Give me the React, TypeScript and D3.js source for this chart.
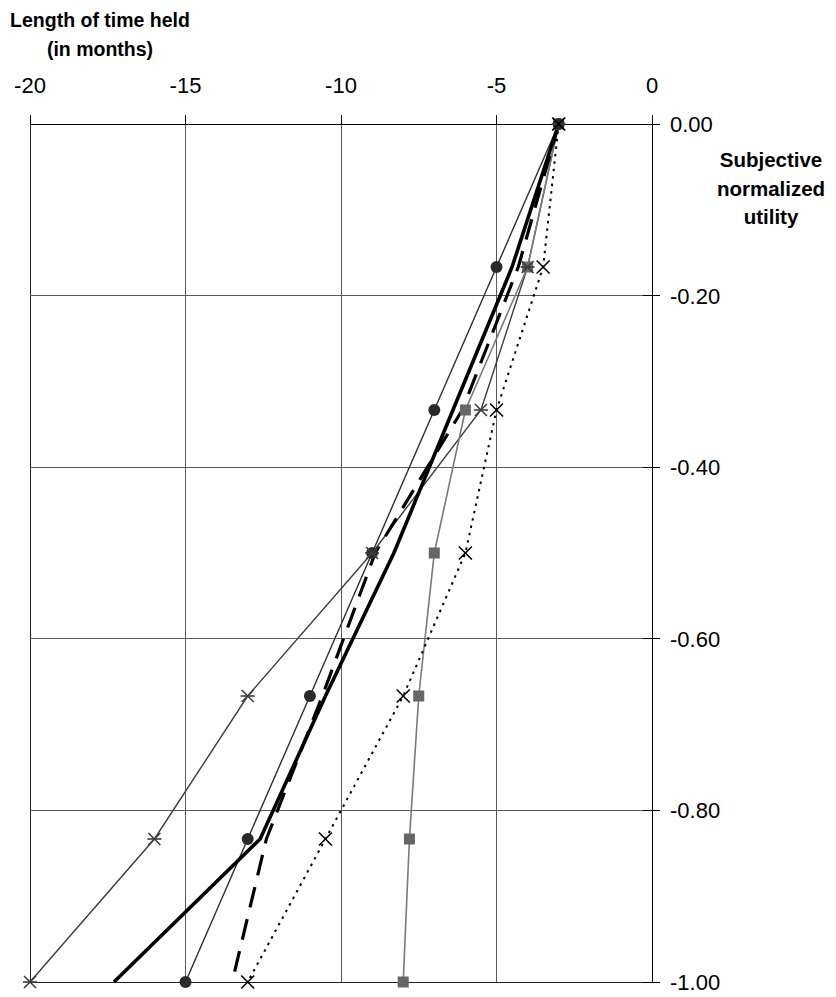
import React from "react";
import * as d3 from "d3";

const levels = [0, -1 / 6, -2 / 6, -3 / 6, -4 / 6, -5 / 6, -1];
const circleX = [-3, -5, -7, -9, -11, -13, -15];
const squareX = [-3, -4, -6, -7, -7.5, -7.8, -8];
const starX = [-3, -4, -5.5, -9, -13, -16, -20];
const crossX = [-3, -3.5, -5, -6, -8, -10.5, -13];
const thickX = [-3, -4.5, -6.4, -8.3, -10.5, -12.6, -17.3];
const dashedX = [-3, -4.3, -6.1, -8.9, -10.6, -12.4, -13.5];

const xTicks = [-20, -15, -10, -5, 0];
const yTicks = [0, -0.2, -0.4, -0.6, -0.8, -1];
const yTickLabels = ["0.00", "-0.20", "-0.40", "-0.60", "-0.80", "-1.00"];
const xTickLabels = ["-20", "-15", "-10", "-5", "0"];

const W = 836;
const H = 997;
const FONT = "'Liberation Sans', Arial, sans-serif";

export default function App() {
  const x = d3.scaleLinear().domain([-20, 0]).range([30, 652]);
  const y = d3.scaleLinear().domain([0, -1]).range([124, 982]);

  const line = d3
    .line<[number, number]>()
    .x((d) => x(d[0]))
    .y((d) => y(d[1]));

  const pts = (xs: number[]): [number, number][] => xs.map((v, i) => [v, levels[i]]);

  const x0 = x(0);

  return (
    <svg
      width={W}
      height={H}
      style={{ position: "absolute", left: 0, top: 0, background: "#fff" }}
      fontFamily={FONT}
    >
      <rect x={0} y={0} width={W} height={H} fill="#fff" />
      {/* gridlines */}
      {xTicks.map((t) => (
        <line
          key={"gx" + t}
          x1={x(t)}
          x2={x(t)}
          y1={y(0)}
          y2={y(-1)}
          stroke={t === 0 ? "#000" : t === -20 ? "#222" : "#5a5a5a"}
          strokeWidth={1}
          shapeRendering="crispEdges"
        />
      ))}
      {yTicks.map((t) => (
        <line
          key={"gy" + t}
          x1={x(-20)}
          x2={x(0)}
          y1={y(t)}
          y2={y(t)}
          stroke={t === 0 ? "#000" : t === -1 ? "#222" : "#5a5a5a"}
          strokeWidth={1}
          shapeRendering="crispEdges"
        />
      ))}
      {/* top axis ticks */}
      {xTicks.map((t) => (
        <line
          key={"tx" + t}
          x1={x(t)}
          x2={x(t)}
          y1={y(0) - 9}
          y2={y(0)}
          stroke="#000"
          strokeWidth={1}
          shapeRendering="crispEdges"
        />
      ))}
      {xTicks.map((t, i) => (
        <text
          key={"lx" + t}
          x={x(t)}
          y={93}
          textAnchor="middle"
          fontSize={22}
          fill="#000"
        >
          {xTickLabels[i]}
        </text>
      ))}
      {/* right axis ticks */}
      {yTicks.map((t) => (
        <line
          key={"ty" + t}
          x1={x0 - 9}
          x2={x0 + 8}
          y1={y(t)}
          y2={y(t)}
          stroke="#000"
          strokeWidth={1}
          shapeRendering="crispEdges"
        />
      ))}
      {yTicks.map((t, i) => (
        <text
          key={"ly" + t}
          x={670}
          y={y(t)}
          dy="0.36em"
          fontSize={22}
          fill="#000"
        >
          {yTickLabels[i]}
        </text>
      ))}

      {/* titles */}
      <text x={100} y={27} textAnchor="middle" fontSize={19.5} fontWeight="bold">
        Length of time held
      </text>
      <text x={100} y={56} textAnchor="middle" fontSize={19.5} fontWeight="bold">
        (in months)
      </text>
      <text x={771} y={167} textAnchor="middle" fontSize={20.5} fontWeight="bold">
        Subjective
      </text>
      <text x={771} y={196} textAnchor="middle" fontSize={20.5} fontWeight="bold">
        normalized
      </text>
      <text x={771} y={224} textAnchor="middle" fontSize={20.5} fontWeight="bold">
        utility
      </text>

      {/* series lines */}
      <path d={line(pts(starX)) || ""} fill="none" stroke="#3c3c3c" strokeWidth={1.4} />
      <path d={line(pts(circleX)) || ""} fill="none" stroke="#2e2e2e" strokeWidth={1.4} />
      <path d={line(pts(squareX)) || ""} fill="none" stroke="#7a7a7a" strokeWidth={1.6} />
      <path
        d={line(pts(crossX)) || ""}
        fill="none"
        stroke="#000"
        strokeWidth={2}
        strokeDasharray="2.5,5"
      />
      <path
        d={line(pts(dashedX)) || ""}
        fill="none"
        stroke="#000"
        strokeWidth={3.2}
        strokeDasharray="21,12"
      />
      <path d={line(pts(thickX)) || ""} fill="none" stroke="#000" strokeWidth={3.6} />

      {/* markers */}
      {pts(squareX).map((d, i) => (
        <rect
          key={"sq" + i}
          x={x(d[0]) - 5.5}
          y={y(d[1]) - 5.5}
          width={11}
          height={11}
          fill="#666"
        />
      ))}
      {pts(circleX).map((d, i) => (
        <circle key={"c" + i} cx={x(d[0])} cy={y(d[1])} r={6} fill="#2a2a2a" />
      ))}
      {pts(starX).map((d, i) => {
        const cx = x(d[0]);
        const cy = y(d[1]);
        const s = 6;
        return (
          <g key={"st" + i} stroke="#3c3c3c" strokeWidth={1.6}>
            <line x1={cx - s} x2={cx + s} y1={cy - s} y2={cy + s} />
            <line x1={cx - s} x2={cx + s} y1={cy + s} y2={cy - s} />
            <line x1={cx - s - 1} x2={cx + s + 1} y1={cy} y2={cy} />
          </g>
        );
      })}
      {pts(crossX).map((d, i) => {
        const cx = x(d[0]);
        const cy = y(d[1]);
        const s = 6.5;
        return (
          <g key={"x" + i} stroke="#000" strokeWidth={1.6}>
            <line x1={cx - s} x2={cx + s} y1={cy - s} y2={cy + s} />
            <line x1={cx - s} x2={cx + s} y1={cy + s} y2={cy - s} />
          </g>
        );
      })}
    </svg>
  );
}
